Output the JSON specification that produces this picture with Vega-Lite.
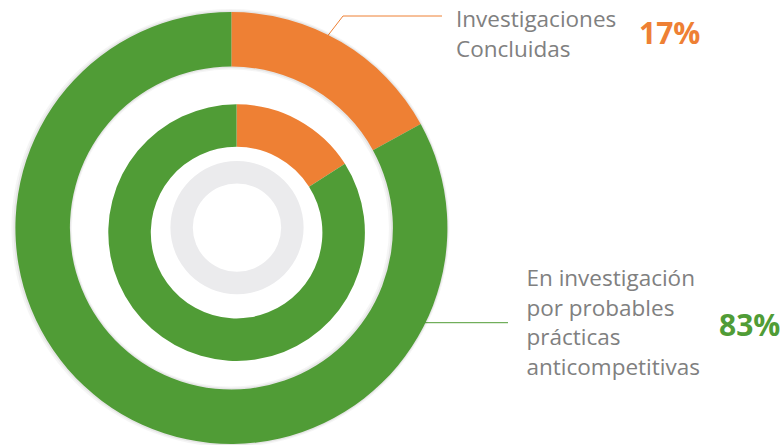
{
  "$schema": "https://vega.github.io/schema/vega-lite/v6.json",
  "width": 783,
  "height": 445,
  "autosize": {"type": "none"},
  "padding": 0,
  "background": "white",
  "config": {"view": {"stroke": null}},
  "datasets": {
    "rings": [
      {"ring": "exterior", "categoria": "Investigaciones Concluidas", "valor": 17},
      {"ring": "exterior", "categoria": "En investigación por probables prácticas anticompetitivas", "valor": 83},
      {"ring": "interior", "categoria": "Investigaciones Concluidas", "valor": 16},
      {"ring": "interior", "categoria": "En investigación por probables prácticas anticompetitivas", "valor": 84}
    ],
    "centro": [{"ring": "centro", "valor": 100}]
  },
  "layer": [
    {
      "data": {"values": [{"k": 1}]},
      "mark": {"type": "rule", "color": "#EE8034", "strokeWidth": 1},
      "encoding": {
        "x": {"datum": 326, "type": "quantitative", "scale": {"domain": [0, 783], "nice": false, "zero": false}, "axis": null},
        "y": {"datum": 38, "type": "quantitative", "scale": {"domain": [0, 445], "nice": false, "zero": false, "reverse": true}, "axis": null},
        "x2": {"datum": 343},
        "y2": {"datum": 16}
      }
    },
    {
      "data": {"values": [{"k": 1}]},
      "mark": {"type": "rule", "color": "#EE8034", "strokeWidth": 1},
      "encoding": {
        "x": {"datum": 343, "type": "quantitative"},
        "y": {"datum": 16, "type": "quantitative"},
        "x2": {"datum": 442},
        "y2": {"datum": 16}
      }
    },
    {
      "data": {"values": [{"k": 1}]},
      "mark": {"type": "rule", "color": "#509C36", "strokeWidth": 1},
      "encoding": {
        "x": {"datum": 415, "type": "quantitative"},
        "y": {"datum": 322.7, "type": "quantitative"},
        "x2": {"datum": 508},
        "y2": {"datum": 322.7}
      }
    },
    {
      "data": {"name": "centro"},
      "mark": {"type": "arc", "outerRadius": 219, "innerRadius": 158.5, "color": "#000000", "opacity": 0.04},
      "encoding": {
        "x": {"datum": 230.4, "type": "quantitative"},
        "y": {"datum": 228, "type": "quantitative"},
        "theta": {"field": "valor", "type": "quantitative"}
      }
    },
    {
      "data": {"name": "centro"},
      "mark": {"type": "arc", "outerRadius": 217.5, "innerRadius": 160, "color": "#000000", "opacity": 0.06},
      "encoding": {
        "x": {"datum": 230.9, "type": "quantitative"},
        "y": {"datum": 228, "type": "quantitative"},
        "theta": {"field": "valor", "type": "quantitative"}
      }
    },
    {
      "data": {"name": "rings"},
      "transform": [{"filter": "datum.ring === 'exterior'"}],
      "mark": {"type": "arc", "outerRadius": 216, "innerRadius": 161.5},
      "encoding": {
        "x": {"datum": 231.4, "type": "quantitative"},
        "y": {"datum": 228, "type": "quantitative"},
        "theta": {"field": "valor", "type": "quantitative", "stack": true},
        "order": {"field": "valor", "type": "quantitative"},
        "color": {
          "field": "categoria",
          "type": "nominal",
          "scale": {
            "domain": ["Investigaciones Concluidas", "En investigación por probables prácticas anticompetitivas"],
            "range": ["#EE8034", "#509C36"]
          },
          "legend": null
        }
      }
    },
    {
      "data": {"name": "rings"},
      "transform": [{"filter": "datum.ring === 'interior'"}],
      "mark": {"type": "arc", "outerRadius": 128.3, "innerRadius": 85.8},
      "encoding": {
        "x": {"datum": 236.6, "type": "quantitative"},
        "y": {"datum": 232.6, "type": "quantitative"},
        "theta": {"field": "valor", "type": "quantitative", "stack": true},
        "order": {"field": "valor", "type": "quantitative"},
        "color": {"field": "categoria", "type": "nominal", "legend": null}
      }
    },
    {
      "data": {"name": "centro"},
      "mark": {"type": "arc", "outerRadius": 66.6, "innerRadius": 44.2, "color": "#EBEBED"},
      "encoding": {
        "x": {"datum": 237, "type": "quantitative"},
        "y": {"datum": 227.6, "type": "quantitative"},
        "theta": {"field": "valor", "type": "quantitative"}
      }
    },
    {
      "data": {"values": [{"texto": "Investigaciones\nConcluidas"}]},
      "mark": {"type": "text", "align": "left", "baseline": "alphabetic", "font": "Open Sans", "fontSize": 22.5, "lineHeight": 30, "lineBreak": "\n", "color": "#808080"},
      "encoding": {
        "x": {"datum": 456, "type": "quantitative"},
        "y": {"datum": 27.3, "type": "quantitative"},
        "text": {"field": "texto"}
      }
    },
    {
      "data": {"values": [{"texto": "17%"}]},
      "mark": {"type": "text", "align": "left", "baseline": "alphabetic", "font": "Open Sans", "fontSize": 30, "fontWeight": "bold", "color": "#EE8034"},
      "encoding": {
        "x": {"datum": 639, "type": "quantitative"},
        "y": {"datum": 44, "type": "quantitative"},
        "text": {"field": "texto"}
      }
    },
    {
      "data": {"values": [{"texto": "En investigación\npor probables\nprácticas\nanticompetitivas"}]},
      "mark": {"type": "text", "align": "left", "baseline": "alphabetic", "font": "Open Sans", "fontSize": 22.5, "lineHeight": 29.7, "lineBreak": "\n", "color": "#808080"},
      "encoding": {
        "x": {"datum": 526.5, "type": "quantitative"},
        "y": {"datum": 286, "type": "quantitative"},
        "text": {"field": "texto"}
      }
    },
    {
      "data": {"values": [{"texto": "83%"}]},
      "mark": {"type": "text", "align": "left", "baseline": "alphabetic", "font": "Open Sans", "fontSize": 30, "fontWeight": "bold", "color": "#509C36"},
      "encoding": {
        "x": {"datum": 719, "type": "quantitative"},
        "y": {"datum": 336, "type": "quantitative"},
        "text": {"field": "texto"}
      }
    }
  ]
}
